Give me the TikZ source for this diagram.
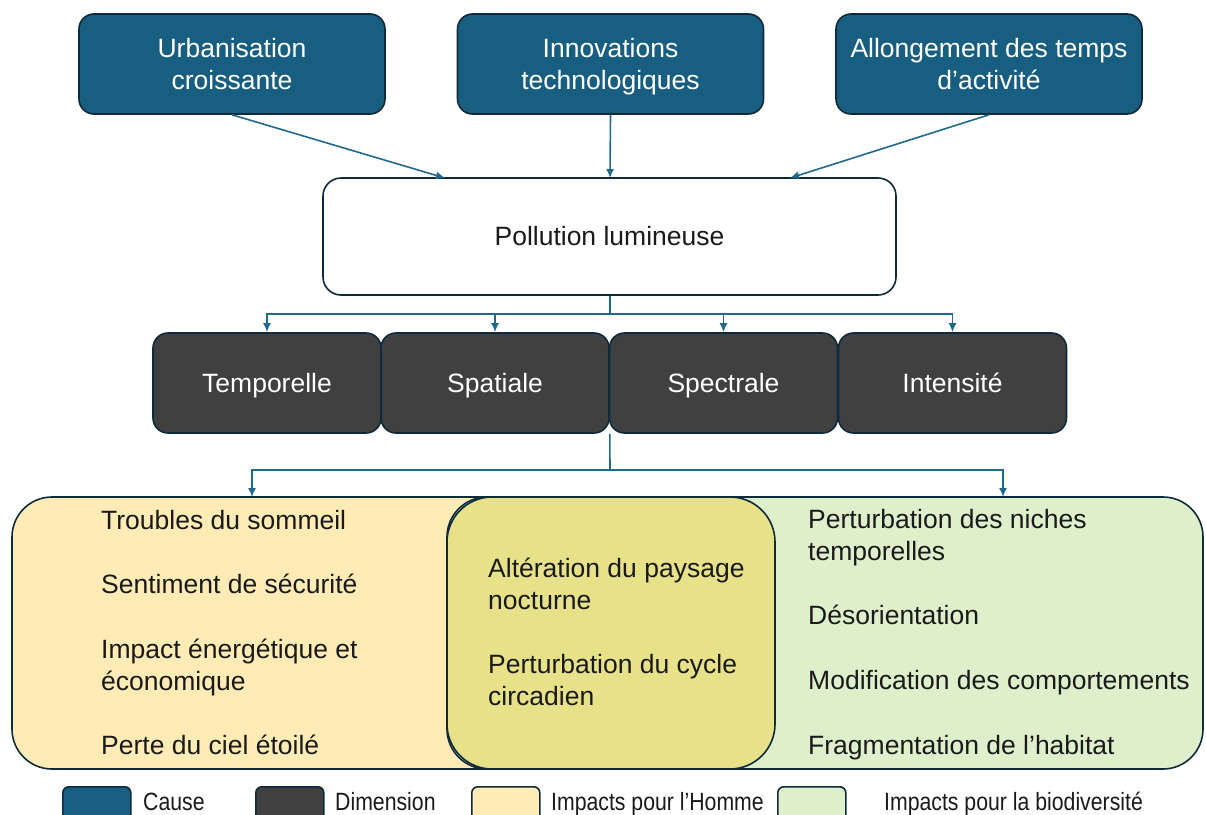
\documentclass[tikz,border=0pt]{standalone}
\usepackage{fontspec}
\setmainfont{Liberation Sans}
\newfontfamily\legfont{Liberation Sans}[FakeStretch=0.85]
\usetikzlibrary{arrows.meta}
\definecolor{causefill}{HTML}{175E80}
\definecolor{edgedark}{HTML}{0E2A3B}
\definecolor{dimfill}{HTML}{404040}
\definecolor{arrowcol}{HTML}{1F6A8C}
\definecolor{homfill}{HTML}{FFEBB5}
\definecolor{biofill}{HTML}{DEF0CB}
\definecolor{bothfill}{HTML}{E7E18A}
\definecolor{txtdark}{HTML}{1A1A1A}
\newcommand{\myln}[1]{#1\rule[-7pt]{0pt}{32pt}}
\tikzset{
  mainfont/.style={font=\fontsize{26.5}{32}\selectfont},
  causebox/.style={draw=edgedark, line width=1.6pt, fill=causefill, rounded corners=15pt,
    minimum width=306pt, minimum height=100pt, text=white, align=center, inner sep=0pt, mainfont},
  dimbox/.style={draw=edgedark, line width=1.6pt, fill=dimfill, rounded corners=15pt,
    minimum width=228pt, minimum height=100pt, text=white, align=center, inner sep=0pt, mainfont},
  polbox/.style={draw=edgedark, line width=1.6pt, fill=white, rounded corners=18pt,
    minimum width=573pt, minimum height=117pt, text=txtdark, inner sep=0pt, mainfont},
  impbox/.style={draw=edgedark, line width=1.6pt, rounded corners=40pt, inner sep=0pt,
    minimum height=272pt},
  imptxt/.style={anchor=west, align=left, text=txtdark, inner sep=0pt, mainfont},
  legbox/.style={draw=edgedark, line width=1.6pt, rounded corners=6pt, inner sep=0pt,
    minimum width=68pt, minimum height=44pt, anchor=north west},
  legtxt/.style={anchor=base west, inner sep=0pt, text=txtdark, font=\legfont\fontsize{25}{28}\selectfont},
  conn/.style={draw=arrowcol, line width=1.6pt},
  arr/.style={conn, -{Latex[length=9pt,width=8pt]}},
}
\begin{document}
\begin{tikzpicture}[x=1pt,y=-1pt]
\useasboundingbox (0,0) rectangle (1206,814);
% causes
\node[causebox] (c1) at (232,64) {\myln{Urbanisation}\\\myln{croissante}};
\node[causebox] (c2) at (610.5,64) {\myln{Innovations}\\\myln{technologiques}};
\node[causebox] (c3) at (989,64) {\myln{Allongement des temps}\\\myln{d’activité}};
% pollution
\node[polbox] (pol) at (609.5,236.5) {\myln{Pollution lumineuse}};
\coordinate (p1) at (445,178);
\coordinate (p2) at (610,178);
\coordinate (p3) at (790,178);
\draw[arr] (c1.south) -- (p1);
\draw[arr] (c2.south) -- (p2);
\draw[arr] (c3.south) -- (p3);
% dimensions
\node[dimbox] (d1) at (267,383) {\myln{Temporelle}};
\node[dimbox] (d2) at (495,383) {\myln{Spatiale}};
\node[dimbox] (d3) at (723.5,383) {\myln{Spectrale}};
\node[dimbox] (d4) at (952.5,383) {\myln{Intensité}};
\coordinate (j1) at (610,314);
\draw[conn] (pol.south -| j1) -- (j1);
\draw[arr] (j1) -| (d1.north);
\draw[arr] (j1) -| (d2.north);
\draw[arr] (j1) -| (d3.north);
\draw[arr] (j1) -| (d4.north);
% impacts
\node[impbox, fill=homfill, minimum width=763pt] (hom) at (393.5,633) {};
\node[impbox, fill=biofill, minimum width=756pt] (bio) at (825,633) {};
\node[impbox, fill=bothfill, minimum width=328pt, rounded corners=45pt] (both) at (611,633) {};
\coordinate (j2) at (610,470);
\coordinate (hq) at (252,497);
\coordinate (bq) at (1003,497);
\draw[conn] (d2.south east) -- (j2);
\draw[arr] (j2) -| (hq);
\draw[arr] (j2) -| (bq);
% impact texts
\node[imptxt] (h1) at (101,520) {\myln{Troubles du sommeil}};
\node[imptxt] (h2) at (101,584) {\myln{Sentiment de sécurité}};
\node[imptxt] (h3) at (101,665) {\myln{Impact énergétique et}\\\myln{économique}};
\node[imptxt] (h4) at (101,745) {\myln{Perte du ciel étoilé}};
\node[imptxt] (m1) at (488,584) {\myln{Altération du paysage}\\\myln{nocturne}};
\node[imptxt] (m2) at (488,680) {\myln{Perturbation du cycle}\\\myln{circadien}};
\node[imptxt] (b1) at (808,535) {\myln{Perturbation des niches}\\\myln{temporelles}};
\node[imptxt] (b2) at (808,615) {\myln{Désorientation}};
\node[imptxt] (b3) at (808,680) {\myln{Modification des comportements}};
\node[imptxt] (b4) at (808,745) {\myln{Fragmentation de l’habitat}};
% legend
\node[legbox, fill=causefill] (l1) at (62,786) {};
\node[legtxt] (lt1) at (143,810) {Cause};
\node[legbox, fill=dimfill] (l2) at (255,786) {};
\node[legtxt] (lt2) at (335,810) {Dimension};
\node[legbox, fill=homfill] (l3) at (471,786) {};
\node[legtxt] (lt3) at (551,810) {Impacts pour l’Homme};
\node[legbox, fill=biofill] (l4) at (777,786) {};
\node[legtxt] (lt4) at (884,810) {Impacts pour la biodiversité};
\end{tikzpicture}
\end{document}
